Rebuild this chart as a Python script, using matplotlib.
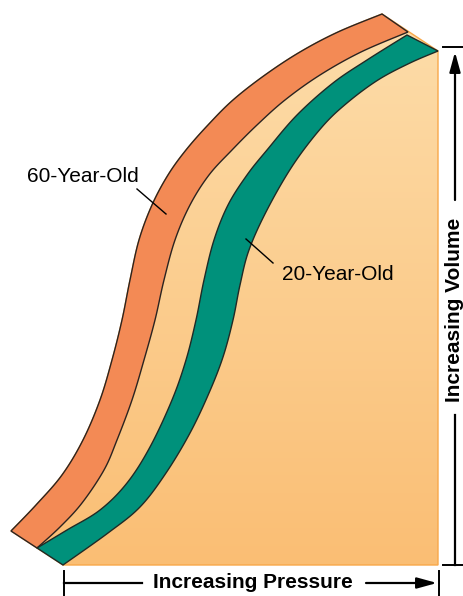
import numpy as np
import matplotlib.pyplot as plt
from matplotlib.patches import Polygon

plt.rcParams['font.family'] = ['Liberation Sans', 'DejaVu Sans']

# curve edges (pressure -> x, volume -> y, y grows downward)
old_outer_x = [11, 36, 62, 83, 100, 112, 122, 130, 139, 152, 168, 186, 208, 233, 265, 300, 338, 382]
old_outer_y = [531, 505, 475, 440, 400, 360, 320, 280, 240, 205, 175, 150, 125, 100, 75, 52, 32, 14]
old_inner_x = [37, 60, 82, 104, 117, 132, 144, 155, 164, 175, 190, 209, 232, 257, 285, 320, 361, 408]
old_inner_y = [548, 527, 503, 470, 440, 400, 360, 320, 280, 240, 205, 175, 150, 125, 100, 75, 52, 32]

young_outer_x = [37, 67, 100, 127, 150, 172, 186, 196, 204, 214, 228, 247, 267, 297, 333, 367, 407]
young_outer_y = [548, 530, 510, 483, 447, 400, 360, 320, 280, 240, 205, 175, 150, 115, 83, 60, 35]
young_inner_x = [63, 108, 140, 166, 190, 209, 223, 233, 240, 249, 267, 293, 322, 347, 378, 410, 438]
young_inner_y = [565, 533, 507, 473, 433, 393, 357, 320, 285, 250, 210, 165, 127, 103, 80, 63, 51]

labels = ['60-Year-Old', '20-Year-Old']
xlabel = 'Increasing Pressure'
ylabel = 'Increasing Volume'


def smooth(xs, ys, n=16):
    # catmull-rom through the read points
    p = np.column_stack([xs, ys]).astype(float)
    p = np.vstack([p[0], p, p[-1]])
    out = []
    t = np.linspace(0, 1, n, endpoint=False)[:, None]
    for i in range(1, len(p) - 2):
        p0, p1, p2, p3 = p[i - 1], p[i], p[i + 1], p[i + 2]
        out.append(0.5 * ((2 * p1) + (-p0 + p2) * t + (2 * p0 - 5 * p1 + 4 * p2 - p3) * t ** 2
                          + (-p0 + 3 * p1 - 3 * p2 + p3) * t ** 3))
    out.append(p[-2][None, :])
    return np.vstack(out)


old_out = smooth(old_outer_x, old_outer_y)
old_in = smooth(old_inner_x, old_inner_y)
young_out = smooth(young_outer_x, young_outer_y)
young_in = smooth(young_inner_x, young_inner_y)

fig = plt.figure(figsize=(4.63, 5.96), dpi=100)
ax = fig.add_axes([0, 0, 1, 1])
ax.set_xlim(0, 463)
ax.set_ylim(596, 0)
ax.axis('off')

# light background area under the curves, with vertical gradient
right = young_inner_x[-1]
bottom = young_inner_y[0]
area = np.vstack([old_out, [[right, young_inner_y[-1]], [right, bottom], [young_inner_x[0], bottom],
                            [old_inner_x[0], old_inner_y[0]]]])
area_patch = Polygon(area, closed=True, facecolor='none', edgecolor='#f8a84a', lw=1.0, zorder=2)
ax.add_patch(area_patch)
top_c = np.array([253, 221, 170]) / 255
bot_c = np.array([250, 190, 116]) / 255
g = np.linspace(0, 1, 256)[:, None, None]
grad = top_c * (1 - g) + bot_c * g
im = ax.imshow(grad, extent=[0, 463, bottom, old_outer_y[-1]], aspect='auto', zorder=1)
clip = Polygon(area, closed=True, transform=ax.transData)
im.set_clip_path(clip)

# the two bands
ax.add_patch(Polygon(np.vstack([old_out, old_in[::-1]]), closed=True,
                     facecolor='#f38a55', edgecolor='#2b2320', lw=1.0, zorder=3))
ax.add_patch(Polygon(np.vstack([young_out, young_in[::-1]]), closed=True,
                     facecolor='#00917b', edgecolor='#1f2a26', lw=1.0, zorder=4))

# labels with leader lines
ax.text(83, 176, labels[0], fontsize=15, ha='center', va='center', zorder=5)
ax.plot([137, 166], [189, 214], color='black', lw=1.0, zorder=5)
ax.text(338, 274, labels[1], fontsize=15, ha='center', va='center', zorder=5)
ax.plot([246, 273], [239, 263], color='black', lw=1.0, zorder=5)

arrow = dict(arrowstyle='-|>,head_length=0.8,head_width=0.22', color='black', lw=1.6,
             shrinkA=0, shrinkB=0, mutation_scale=15)

# pressure axis
ax.text(253, 583, xlabel, fontsize=15, fontweight='bold', ha='center', va='center')
ax.plot([64, 142], [583, 583], color='black', lw=1.6)
ax.annotate('', xy=(437, 583), xytext=(366, 583), arrowprops=arrow)
ax.plot([64, 64], [571, 596], color='black', lw=1.4)
ax.plot([439, 439], [571, 596], color='black', lw=1.4)

# volume axis
ax.text(455, 310, ylabel, fontsize=15, fontweight='bold', rotation=90, ha='center', va='center')
ax.annotate('', xy=(455, 52), xytext=(455, 200), arrowprops=arrow)
ax.plot([455, 455], [415, 565], color='black', lw=1.6)
ax.plot([443, 463], [47, 47], color='black', lw=1.4)
ax.plot([443, 463], [565, 565], color='black', lw=1.4)

fig.savefig('out.png', dpi=100)
